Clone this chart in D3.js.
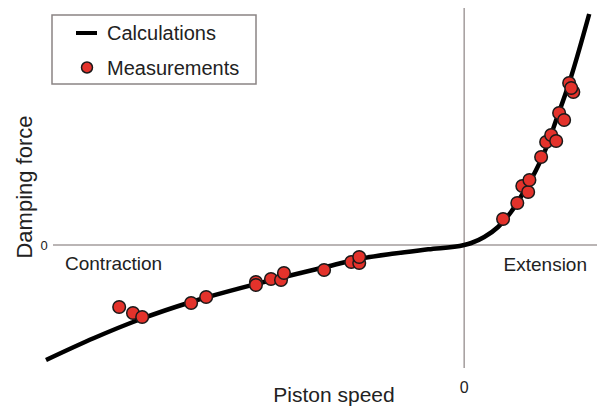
<!DOCTYPE html>
<head>
<meta charset="utf-8">
<script src="https://d3js.org/d3.v7.min.js"></script>
</head>
<style>
body { margin: 0; background: #fff; }
svg { font-family: "Liberation Sans", Arial, sans-serif; }
.curve { fill: none; stroke: #000; stroke-width: 4.5px; stroke-linejoin: round; }
.axisline { stroke: #a39c9c; stroke-width: 1.5px; }
.dot { fill: #e3322b; stroke: #1a1a1a; stroke-width: 1.5px; }
</style>
<body>
<script>
// calculated characteristic (speed, force), arbitrary units
var calcSpeed = [-1.0, -0.885, -0.773, -0.653, -0.502, -0.335, -0.246, -0.167, -0.086, 0,
                 0.017, 0.048, 0.081, 0.112, 0.141, 0.172, 0.196, 0.220, 0.251, 0.299];
var calcForce = [-1.15, -0.93, -0.74, -0.57, -0.395, -0.223, -0.135, -0.085, -0.043, 0,
                 0.02, 0.08, 0.18, 0.33, 0.52, 0.75, 0.97, 1.25, 1.62, 2.31];

// measured points
var measSpeed = [-0.825, -0.792, -0.770, -0.653, -0.617, -0.498, -0.498, -0.462, -0.438, -0.431,
                 -0.335, -0.270, -0.251, -0.251,
                 0.093, 0.127, 0.139, 0.153, 0.156, 0.184, 0.196, 0.208, 0.220, 0.227,
                 0.239, 0.251, 0.261, 0.256];
var measForce = [-0.62, -0.68, -0.72, -0.58, -0.52, -0.37, -0.40, -0.34, -0.35, -0.28,
                 -0.25, -0.17, -0.18, -0.12,
                 0.26, 0.42, 0.59, 0.53, 0.65, 0.88, 1.03, 1.10, 1.04, 1.32,
                 1.25, 1.62, 1.53, 1.57];

var legendLabels = ["Calculations", "Measurements"];

var width = 597, height = 408;

var x = d3.scaleLinear().domain([-1, 0.32]).range([46, 598]);
var y = d3.scaleLinear().domain([-1.23, 2.37]).range([368, 8]);

var svg = d3.select("body").append("svg")
    .attr("width", width)
    .attr("height", height);

// zero lines
svg.append("line").attr("class", "axisline")
    .attr("x1", 53).attr("x2", width)
    .attr("y1", y(0)).attr("y2", y(0));
svg.append("line").attr("class", "axisline")
    .attr("x1", x(0)).attr("x2", x(0))
    .attr("y1", y.range()[1]).attr("y2", y.range()[0]);

var calc = calcSpeed.map(function(d, i) { return {v: d, f: calcForce[i]}; });
var meas = measSpeed.map(function(d, i) { return {v: d, f: measForce[i]}; });

var valueline = d3.line()
    .curve(d3.curveMonotoneX)
    .x(function(d) { return x(d.v); })
    .y(function(d) { return y(d.f); });

svg.append("path")
    .data([calc])
    .attr("class", "curve")
    .attr("d", valueline);

svg.selectAll(".dot")
    .data(meas)
  .enter().append("circle")
    .attr("class", "dot")
    .attr("r", 6.3)
    .attr("cx", function(d) { return x(d.v); })
    .attr("cy", function(d) { return y(d.f); });

// labels
svg.append("text").attr("x", 65).attr("y", 270)
    .style("font-size", "19px").attr("fill", "#222").text("Contraction");
svg.append("text").attr("x", 587).attr("y", 271)
    .attr("text-anchor", "end")
    .style("font-size", "19px").attr("fill", "#222").text("Extension");
svg.append("text").attr("x", 44).attr("y", 250)
    .attr("text-anchor", "middle")
    .style("font-size", "13px").attr("fill", "#222").text("0");
svg.append("text").attr("x", x(0)).attr("y", 393)
    .attr("text-anchor", "middle")
    .style("font-size", "16px").attr("fill", "#222").text("0");
svg.append("text").attr("x", 334).attr("y", 402)
    .attr("text-anchor", "middle")
    .style("font-size", "21px").attr("fill", "#222").text("Piston speed");
svg.append("text")
    .attr("transform", "translate(32,187) rotate(-90)")
    .attr("text-anchor", "middle")
    .style("font-size", "22px").attr("fill", "#222").text("Damping force");

// legend
var lg = svg.append("g");
lg.append("rect")
    .attr("x", 52).attr("y", 15).attr("width", 204).attr("height", 69)
    .attr("fill", "#fff").attr("stroke", "#8a8484").attr("stroke-width", 1.5);
lg.append("line")
    .attr("x1", 76).attr("x2", 97).attr("y1", 33).attr("y2", 33)
    .attr("stroke", "#000").attr("stroke-width", 4);
lg.append("circle").attr("class", "dot")
    .attr("cx", 87).attr("cy", 67.5).attr("r", 5.5);
lg.selectAll(".lt")
    .data(legendLabels)
  .enter().append("text")
    .attr("x", 107)
    .attr("y", function(d, i) { return 39.5 + i * 35; })
    .style("font-size", "20px").attr("fill", "#222")
    .text(function(d) { return d; });
</script>
</body>
